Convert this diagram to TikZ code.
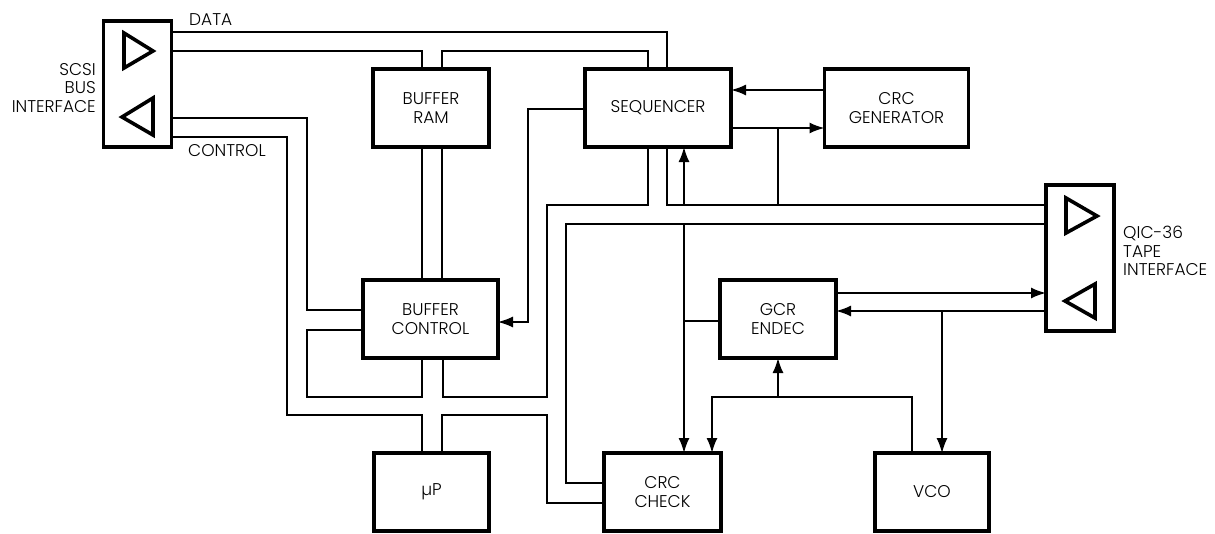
\documentclass[tikz,border=0pt]{standalone}
\usepackage{fontspec}
\setmainfont{Poppins}[UprightFont=* Light]
\usetikzlibrary{arrows.meta}
\tikzset{
    blockbox/.style={draw,line width=3.2pt,outer sep=0pt,inner sep=0pt,align=center,font=\fontsize{17}{18.5}\selectfont},
    wire/.style={line width=1.8pt},
    thinwire/.style={line width=1.3pt},
    arrowwire/.style={line width=1.8pt,-{Latex[length=15pt,width=11pt]}},
    sidelabel/.style={inner sep=0pt,font=\fontsize{17}{18.2}\selectfont},
    driver/.style={line width=3.6pt,miter limit=4}
}
\begin{document}
            \begin{tikzpicture}[x=1pt,y=-1pt]
                \useasboundingbox (0,0) rectangle (1215,533);
                \node[blockbox,minimum width=68pt,minimum height=126pt] (scsi) at (137.5,84) {};
                \node[blockbox,minimum width=116pt,minimum height=78pt] (bufram) at (431,108) {BUFFER\\RAM};
                \node[blockbox,minimum width=146pt,minimum height=78pt] (seq) at (658,108) {SEQUENCER};
                \node[blockbox,minimum width=144pt,minimum height=78pt] (crcgen) at (896.5,108) {CRC\\GENERATOR};
                \node[blockbox,minimum width=68pt,minimum height=146pt] (qic) at (1080,258) {};
                \node[blockbox,minimum width=135pt,minimum height=78pt] (bufctl) at (430.5,319) {BUFFER\\CONTROL};
                \node[blockbox,minimum width=116pt,minimum height=78pt] (gcr) at (778,319) {GCR\\ENDEC};
                \node[blockbox,minimum width=115pt,minimum height=78pt] (mup) at (431.5,492) {µP};
                \node[blockbox,minimum width=117pt,minimum height=78pt] (crcchk) at (662.5,492) {CRC\\CHECK};
                \node[blockbox,minimum width=114pt,minimum height=78pt] (vco) at (932,492) {VCO};
                \node[sidelabel,anchor=west] (datalab) at (189,20) {DATA};
                \node[sidelabel,anchor=west] (ctllab) at (188,151) {CONTROL};
                \node[sidelabel,anchor=east,align=right] (scsilab) at (96,88) {SCSI\\BUS\\INTERFACE};
                \node[sidelabel,anchor=west,align=left] (qiclab) at (1123,251) {QIC-36\\TAPE\\INTERFACE};
                \draw[driver] (124,33) -- (153,51) -- (124,68) -- cycle;
                \draw[driver] (153,98) -- (122,117) -- (153,135) -- cycle;
                \draw[driver] (1066,198) -- (1097,216) -- (1066,233) -- cycle;
                \draw[driver] (1095,284) -- (1065,301) -- (1095,318) -- cycle;
                \draw[wire] (scsi.east |- 0,32) -- (667,32) -- (seq.north -| 667,0);
                \draw[wire] (scsi.east |- 0,51) -- (422,51) -- (bufram.north -| 422,0);
                \draw[wire] (bufram.north -| 442,0) -- (442,51) -- (648,51) -- (seq.north -| 648,0);
                \draw[wire] (bufram.south -| 422,0) -- (bufctl.north -| 422,0);
                \draw[wire] (bufram.south -| 442,0) -- (bufctl.north -| 442,0);
                \draw[wire] (scsi.east |- 0,118) -- (307,118) -- (307,310) -- (bufctl.west |- 0,310);
                \draw[wire] (scsi.east |- 0,137) -- (287,137) -- (287,415) -- (422,415) -- (mup.north -| 422,0);
                \draw[wire] (bufctl.west |- 0,330) -- (307,330) -- (307,397) -- (422,397) -- (bufctl.south -| 422,0);
                \draw[wire] (bufctl.south -| 443,0) -- (443,397) -- (547,397) -- (547,205) -- (648,205) -- (seq.south -| 648,0);
                \draw[wire] (seq.south -| 667,0) -- (667,205) -- (qic.west |- 0,205);
                \draw[wire] (qic.west |- 0,224) -- (566,224) -- (566,483) -- (crcchk.west |- 0,483);
                \draw[wire] (mup.north -| 442,0) -- (442,415) -- (547,415) -- (547,503) -- (crcchk.west |- 0,503);
                \draw[thinwire,-{Latex[length=15pt,width=11pt]}] (seq.west |- 0,109) -- (528,109) -- (528,322) -- (bufctl.east |- 0,322);
                \draw[arrowwire] (684,205) -- (seq.south -| 684,0);
                \draw[arrowwire] (crcgen.west |- 0,90) -- (seq.east |- 0,90);
                \draw[arrowwire] (seq.east |- 0,128) -- (crcgen.west |- 0,128);
                \draw[thinwire] (778,128) -- (778,205);
                \draw[arrowwire] (684,224) -- (crcchk.north -| 684,0);
                \draw[thinwire] (684,321) -- (gcr.west |- 0,321);
                \draw[arrowwire] (vco.north -| 912,0) -- (912,397) -- (712,397) -- (crcchk.north -| 712,0);
                \draw[arrowwire] (778,397) -- (gcr.south);
                \draw[arrowwire] (gcr.east |- 0,293) -- (qic.west |- 0,293);
                \draw[arrowwire] (qic.west |- 0,311) -- (gcr.east |- 0,311);
                \draw[arrowwire,line width=1.3pt] (942,311) -- (vco.north -| 942,0);
            \end{tikzpicture}
\end{document}
